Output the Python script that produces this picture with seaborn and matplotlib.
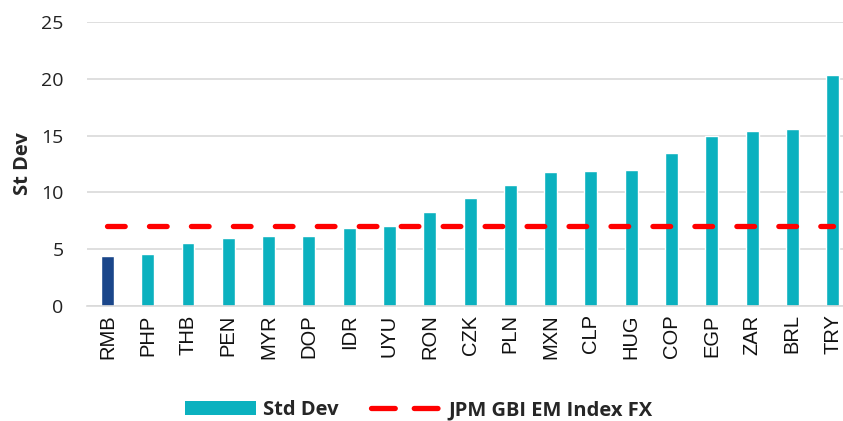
import matplotlib
matplotlib.use("Agg")
import matplotlib.pyplot as plt
import seaborn as sns
import pandas as pd
from matplotlib.patches import Patch
from matplotlib.lines import Line2D

categories = ["RMB", "PHP", "THB", "PEN", "MYR", "DOP", "IDR", "UYU", "RON", "CZK",
              "PLN", "MXN", "CLP", "HUG", "COP", "EGP", "ZAR", "BRL", "TRY"]
std_dev = [4.4, 4.6, 5.55, 6.0, 6.15, 6.17, 6.85, 7.08, 8.25, 9.5,
           10.65, 11.8, 11.9, 11.95, 13.5, 14.92, 15.4, 15.55, 20.3]
index_fx = 7.02
yticks = [0, 5, 10, 15, 20, 25]

teal = "#0BB1BF"
navy = "#1A468A"
red = "#FF0000"

sns.set_theme(style="white")
plt.rcParams["font.family"] = ["Open Sans", "DejaVu Sans"]

df = pd.DataFrame({"cur": categories, "val": std_dev})
colors = [navy if c == "RMB" else teal for c in categories]

fig = plt.figure(figsize=(8.43, 4.21), dpi=100)
ax = fig.add_axes([0.1036, 0.273, 0.908, 0.675])

sns.barplot(data=df, x="cur", y="val", hue="cur", palette=colors, legend=False,
            width=0.32, ax=ax, saturation=1)

ax.plot(categories, [index_fx] * len(categories), color=red, lw=3.8,
        linestyle=(0, (3.35, 4.6)), dash_capstyle="round", zorder=3)

ax.set_ylim(0, 25)
ax.set_yticks(yticks)
ax.set_xlim(-0.5, len(categories) - 0.5)
ax.grid(axis="y", color="#D9D9D9", lw=1.2)
ax.set_axisbelow(True)
for s in ["top", "right", "left"]:
    ax.spines[s].set_visible(False)
ax.spines["bottom"].set_color("#D9D9D9")
ax.spines["bottom"].set_linewidth(1.2)

ax.tick_params(axis="y", labelsize=14, colors="#222222", length=0, pad=17)
ax.tick_params(axis="x", labelsize=14.5, colors="#111111", length=0, pad=6, rotation=90)
for lbl in ax.get_xticklabels():
    lbl.set_family(["Liberation Sans", "DejaVu Sans"])
ax.set_xlabel("")
ax.set_ylabel("St Dev", fontsize=14.5, fontweight="bold", labelpad=6)

handles = [Patch(facecolor=teal, edgecolor="none", label="Std Dev"),
           Line2D([0], [0], color=red, lw=3.8, linestyle=(0, (4.5, 3.6)),
                  dash_capstyle="round", label="JPM GBI EM Index FX")]
leg = fig.legend(handles=handles, loc="center", bbox_to_anchor=(0.497, 0.026),
                 ncol=2, frameon=False, handlelength=3.5, handleheight=0.75,
                 columnspacing=1.6, handletextpad=0.35, borderpad=0.1,
                 prop={"size": 14.5, "weight": "bold"})

fig.savefig("out.png", dpi=100)
